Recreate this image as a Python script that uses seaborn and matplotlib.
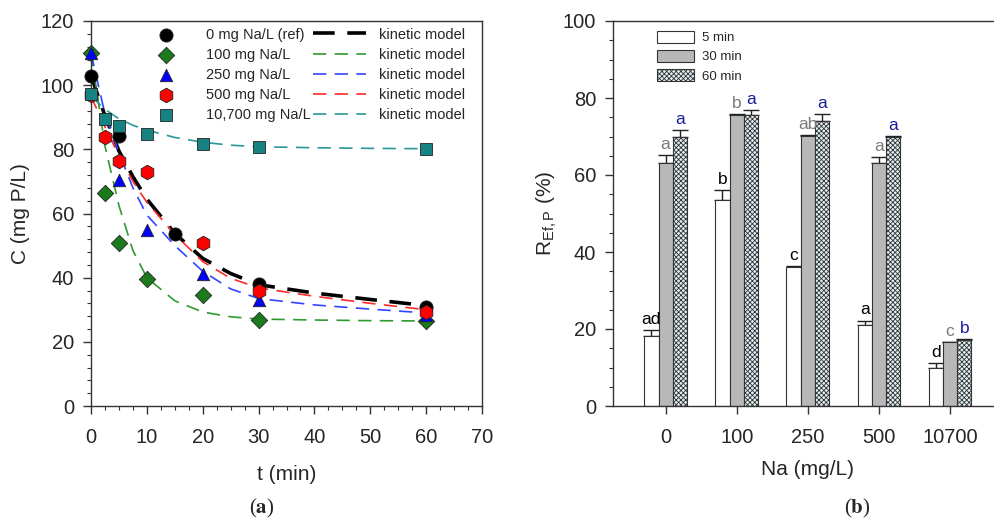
import pandas as pd
import numpy as np
import matplotlib
matplotlib.use("Agg")
import matplotlib.pyplot as plt
import seaborn as sns
from matplotlib.ticker import MultipleLocator

sns.set_style("ticks")
plt.rcParams['font.family'] = ['Liberation Sans', 'DejaVu Sans']
plt.rcParams['hatch.linewidth'] = 0.6

# ---- panel (a): P concentration vs time ----
series_names = ['0 mg Na/L (ref)', '100 mg Na/L', '250 mg Na/L', '500 mg Na/L', '10,700 mg Na/L']

t_ref = [0, 5, 15, 30, 60]
c_ref = [103, 84.2, 53.5, 38, 31]
t_100 = [0, 2.5, 5, 10, 20, 30, 60]
c_100 = [110, 66.5, 50.8, 39.7, 34.5, 26.8, 26.5]
t_250 = [0, 5, 10, 20, 30, 60]
c_250 = [110, 70.5, 55, 41, 33, 28.5]
t_500 = [0, 2.5, 5, 10, 20, 30, 60]
c_500 = [97, 83.7, 76.3, 73, 50.8, 35.8, 29.2]
t_10700 = [0, 2.5, 5, 10, 20, 30, 60]
c_10700 = [97.3, 89.6, 87.4, 84.7, 81.8, 80.8, 80]

# kinetic model curves
t_model = [0, 2.5, 5, 7.5, 10, 15, 20, 25, 30, 40, 50, 60]
m_ref = [103, 90.5, 79.5, 71.5, 64.5, 53.8, 46, 41.3, 37.8, 35.2, 33.2, 31.3]
m_100 = [110, 81, 62.5, 48.5, 40, 32.8, 29.3, 27.8, 27.1, 26.8, 26.6, 26.5]
m_250 = [110, 91, 79, 68, 59.5, 50, 42, 36.5, 33.5, 31.5, 30.2, 29]
m_500 = [96.5, 87, 78, 70, 63.5, 53.5, 45, 39.8, 36.8, 34.2, 32, 30]
m_10700 = [96.5, 92.5, 89.5, 87.5, 86, 83.7, 82.2, 81.3, 80.8, 80.5, 80.3, 80.2]

# ---- panel (b): removal efficiency ----
na_levels = ['0', '100', '250', '500', '10700']
times = ['5 min', '30 min', '60 min']
r_5 = [18.3, 53.5, 36, 21, 10]
r_30 = [63, 75.5, 70.1, 63, 16.5]
r_60 = [70, 75.7, 74, 70, 17.1]
e_5 = [1.5, 2.5, 0.3, 1.2, 1.1]
e_30 = [2.3, 0.4, 0.2, 1.6, 0.1]
e_60 = [1.7, 1.2, 1.8, 0.2, 0.2]
let_5 = ['ad', 'b', 'c', 'a', 'd']
let_30 = ['a', 'b', 'ab', 'a', 'c']
let_60 = ['a', 'a', 'a', 'a', 'b']

fig = plt.figure(figsize=(9.95, 5.22), dpi=100)
ax1 = fig.add_axes([91 / 995, 1 - 406 / 522, 391 / 995, 385 / 522])
ax2 = fig.add_axes([613 / 995, 1 - 406 / 522, 390 / 995, 385 / 522])

obs = [(t_ref, c_ref), (t_100, c_100), (t_250, c_250), (t_500, c_500), (t_10700, c_10700)]
models = [m_ref, m_100, m_250, m_500, m_10700]
mk_colors = ['black', '#1b7a1b', '#0000ff', '#ff0000', '#178282']
ln_colors = ['black', '#2f9a2f', '#3344ff', '#ff2a2a', '#2a9898']
markers = ['o', 'D', '^', 'h', 's']
msizes = [90, 70, 80, 110, 75]
lws = [2.6, 1.2, 1.2, 1.2, 1.2]

for i in range(5):
    sns.lineplot(x=t_model, y=models[i], ax=ax1, color=ln_colors[i], lw=lws[i],
                 dashes=False, linestyle=(0, (6, 3.5)) if i == 0 else (0, (8, 5)),
                 label='kinetic model', zorder=2)
for i in range(5):
    t, c = obs[i]
    sns.scatterplot(x=t, y=c, ax=ax1, marker=markers[i], color=mk_colors[i], s=msizes[i],
                    edgecolor='#222222', linewidth=0.6, label=series_names[i], zorder=3,
                    clip_on=False)

h, l = ax1.get_legend_handles_labels()
handles = h[5:] + h[:5]
labels = l[5:] + l[:5]
ax1.legend(handles, labels, ncol=2, loc='upper left', bbox_to_anchor=(0.125, 0.983),
           frameon=False, fontsize=10.5, handlelength=3.6, handletextpad=0.9,
           columnspacing=0.2, labelspacing=0.42, borderpad=0, borderaxespad=0)

ax1.set_xlim(0, 70)
ax1.set_ylim(0, 120)
ax1.xaxis.set_major_locator(MultipleLocator(10))
ax1.xaxis.set_minor_locator(MultipleLocator(2.5))
ax1.yaxis.set_major_locator(MultipleLocator(20))
ax1.yaxis.set_minor_locator(MultipleLocator(4))
ax1.set_xlabel('t (min)', fontsize=15, labelpad=13)
ax1.set_ylabel('C (mg P/L)', fontsize=15, labelpad=8)

# panel (b)
df = pd.DataFrame({
    'Na': na_levels * 3,
    'R': r_5 + r_30 + r_60,
    'time': [times[0]] * 5 + [times[1]] * 5 + [times[2]] * 5,
})
sns.barplot(data=df, x='Na', y='R', hue='time', order=na_levels, hue_order=times,
            palette=['white', '#b8b8b8', '#dcf1f6'], width=0.6, errorbar=None,
            edgecolor='#333333', linewidth=0.8, legend=False, ax=ax2, zorder=2)
bars = list(ax2.containers)
for p in bars[2]:
    p.set_hatch('xxxxxxx')

errs = [e_5, e_30, e_60]
lets = [let_5, let_30, let_60]
let_colors = ['black', '#7a7a7a', '#1c1c9c']
for k, cont in enumerate(bars):
    xs = [p.get_x() + p.get_width() / 2 for p in cont]
    ys = [p.get_height() for p in cont]
    ax2.errorbar(xs, ys, yerr=[np.zeros(5), errs[k]], fmt='none', ecolor='#222222',
                 elinewidth=1, capsize=5.5, capthick=1, zorder=1)
    for j in range(5):
        ax2.text(xs[j], ys[j] + errs[k][j] + 0.8, lets[k][j], ha='center', va='bottom',
                 fontsize=12.5, color=let_colors[k])

ax2.legend(bars, times, loc='upper left', bbox_to_anchor=(0.114, 0.975), frameon=False,
           fontsize=9.5, handlelength=2.8, handleheight=1.05, handletextpad=0.6,
           labelspacing=0.42, borderpad=0, borderaxespad=0)
ax2.set_xlim(-0.74, 4.745)
ax2.set_ylim(0, 100)
ax2.yaxis.set_major_locator(MultipleLocator(20))
ax2.yaxis.set_minor_locator(MultipleLocator(5))
ax2.spines['right'].set_visible(False)
ax2.set_xlabel('Na (mg/L)', fontsize=15, labelpad=9)
ax2.set_ylabel(r'$\mathregular{R_{Ef,P}}$ (%)', fontsize=15, labelpad=3)

for ax in (ax1, ax2):
    ax.tick_params(which='major', direction='out', length=6, width=1, labelsize=14.5,
                   color='#333333', pad=6)
    ax.tick_params(which='minor', direction='out', length=3, width=0.8, color='#333333')
    for s in ax.spines.values():
        s.set_linewidth(1)
        s.set_color('#333333')
ax1.tick_params(axis='x', pad=10)
ax2.tick_params(axis='x', pad=10)

fig.text(262 / 995, 1 - 508 / 522, r'($\mathbf{a}$)', ha='center', va='center',
         fontsize=15, family='Liberation Serif', math_fontfamily='stix')
fig.text(857 / 995, 1 - 508 / 522, r'($\mathbf{b}$)', ha='center', va='center',
         fontsize=15, family='Liberation Serif', math_fontfamily='stix')

fig.savefig('out.png', dpi=100)
